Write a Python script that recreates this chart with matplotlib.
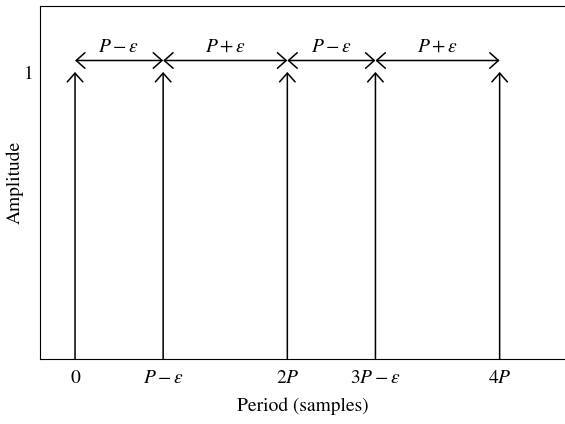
import matplotlib.pyplot as plt

# impulse positions (P = 1, eps ~ 0.17)
P = 1.0
eps = 0.17
positions = [0, P - eps, 2 * P, 3 * P - eps, 4 * P]
amplitudes = [1, 1, 1, 1, 1]
tick_labels = ["0", r"$P-\varepsilon$", r"$2P$", r"$3P-\varepsilon$", r"$4P$"]
gap_labels = [r"$P-\varepsilon$", r"$P+\varepsilon$", r"$P-\varepsilon$", r"$P+\varepsilon$"]

plt.rcParams['font.family'] = ['STIXGeneral', 'DejaVu Serif']
plt.rcParams['mathtext.fontset'] = 'stix'
plt.rcParams['font.size'] = 10

fig = plt.figure(figsize=(5.65, 4.24), dpi=100)
ax = fig.add_axes([0.0708, 0.153, 0.93, 0.833])

ax.set_xlim(-0.33, 4.62)
ax.set_ylim(0, 1.23)

head = "->, head_length=0.45, head_width=0.4"
both = "<->, head_length=0.45, head_width=0.4"

# stems with open arrow heads
for x, a in zip(positions, amplitudes):
    ax.annotate("", xy=(x, a), xytext=(x, 0),
                arrowprops=dict(arrowstyle=head, color="black", lw=1.1,
                                shrinkA=0, shrinkB=0, mutation_scale=14))

# spacing arrows above the stems
y_gap = 1.04
for i, lab in enumerate(gap_labels):
    x0, x1 = positions[i], positions[i + 1]
    ax.annotate("", xy=(x1, y_gap), xytext=(x0, y_gap),
                arrowprops=dict(arrowstyle=both, color="black", lw=1.1,
                                shrinkA=0, shrinkB=0, mutation_scale=14))
    ax.text((x0 + x1) / 2, y_gap + 0.015, lab, ha="center", va="bottom", fontsize=14)

ax.set_xticks(positions)
ax.set_xticklabels(tick_labels, fontsize=14)
ax.set_yticks([1])
ax.set_yticklabels(["1"], fontsize=14)
ax.tick_params(axis='x', length=0, pad=8)
ax.tick_params(axis='y', length=0, pad=5)
ax.spines['right'].set_visible(False)

ax.set_xlabel("Period (samples)", fontsize=14, labelpad=7)
ax.set_ylabel("Amplitude", fontsize=14)
ax.yaxis.set_label_coords(-0.031, 0.5)

fig.savefig("out.png", dpi=100)
